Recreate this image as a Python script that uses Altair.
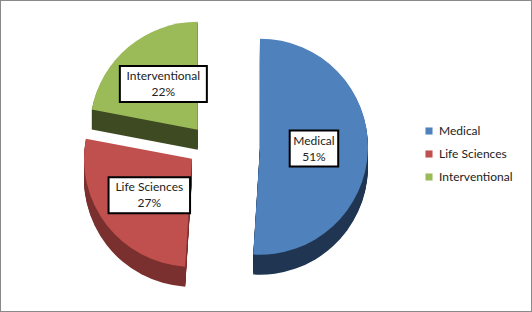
import altair as alt
import pandas as pd

# ---- data ----
categories = ["Medical", "Life Sciences", "Interventional"]
values = [51, 27, 22]

# ---- style / layout ----
top_colors = ["#4F81BD", "#C0504D", "#9BBB59"]
side_colors = ["#1F3551", "#7A302E", "#3E4B22"]
CX, CY, R = 222, 146, 108
EX, EY = 38, 21          # explode distance (horizontal / vertical)
DEPTH_STEPS = list(range(1, 21))
FONT = "Lato"

df = pd.DataFrame({"idx": list(range(len(categories))),
                   "category": categories,
                   "value": values})

base = (
    alt.Chart(df)
    .transform_joinaggregate(total="sum(value)")
    .transform_window(cum="sum(value)", sort=[alt.SortField("idx")], frame=[None, 0])
    .transform_calculate(
        t1="2*PI*datum.cum/datum.total",
        t0="2*PI*(datum.cum-datum.value)/datum.total",
    )
    .transform_calculate(mid="(datum.t0+datum.t1)/2")
    .transform_calculate(
        cx=f"{CX} + {EX}*sin(datum.mid)",
        cy=f"{CY} - {EY}*cos(datum.mid)",
    )
    .transform_calculate(
        lx=f"datum.cx + 0.5*{R}*sin(datum.mid)",
        ly=f"datum.cy - 0.55*{R}*cos(datum.mid)",
        pct="format(datum.value/datum.total, '.0%')",
        bw="length(datum.category)*5.5 + 10",
    )
    .transform_calculate(
        lab="datum.category + '\\n' + datum.pct",
        bx1="datum.lx - datum.bw/2",
        bx2="datum.lx + datum.bw/2",
        by1="datum.ly - 18",
        by2="datum.ly + 18",
    )
)

pos = dict(
    x=alt.X("cx:Q", scale=None, axis=None),
    y=alt.Y("cy:Q", scale=None, axis=None),
    theta=alt.Theta("t0:Q", scale=None, stack=None),
    theta2=alt.Theta2("t1:Q"),
)

layers = []
for off in DEPTH_STEPS:
    layers.append(
        base.mark_arc(radius=R, yOffset=off).encode(
            color=alt.Color("category:N",
                            scale=alt.Scale(domain=categories, range=side_colors),
                            legend=None),
            **pos,
        )
    )

top = base.mark_arc(radius=R).encode(
    color=alt.Color(
        "category:N",
        scale=alt.Scale(domain=categories, range=top_colors),
        sort=categories,
        legend=alt.Legend(
            title=None, orient="none", legendX=423, legendY=125,
            symbolType="square", symbolSize=50, symbolStrokeWidth=0,
            labelFont=FONT, labelFontSize=12, labelColor="#222222",
            rowPadding=11, labelOffset=4,
        ),
    ),
    **pos,
)
layers.append(top)

boxes = base.mark_rect(fill="white", stroke="black", strokeWidth=2).encode(
    x=alt.X("bx1:Q", scale=None, axis=None),
    x2="bx2:Q",
    y=alt.Y("by1:Q", scale=None, axis=None),
    y2="by2:Q",
)
labels = base.mark_text(font=FONT, fontSize=12, lineBreak="\n", lineHeight=16,
                        color="#222222", baseline="middle", dy=-8).encode(
    x=alt.X("lx:Q", scale=None, axis=None),
    y=alt.Y("ly:Q", scale=None, axis=None),
    text="lab:N",
)
layers += [boxes, labels]

chart = (
    alt.layer(*layers)
    .resolve_scale(color="independent")
    .properties(width=532, height=312, padding=0,
                autosize=alt.AutoSizeParams(type="none"),
                background="white")
    .configure_view(stroke="#8a8a8a", strokeWidth=2)
)

chart.save("out.html", embed_options={"renderer": "svg", "actions": False})
